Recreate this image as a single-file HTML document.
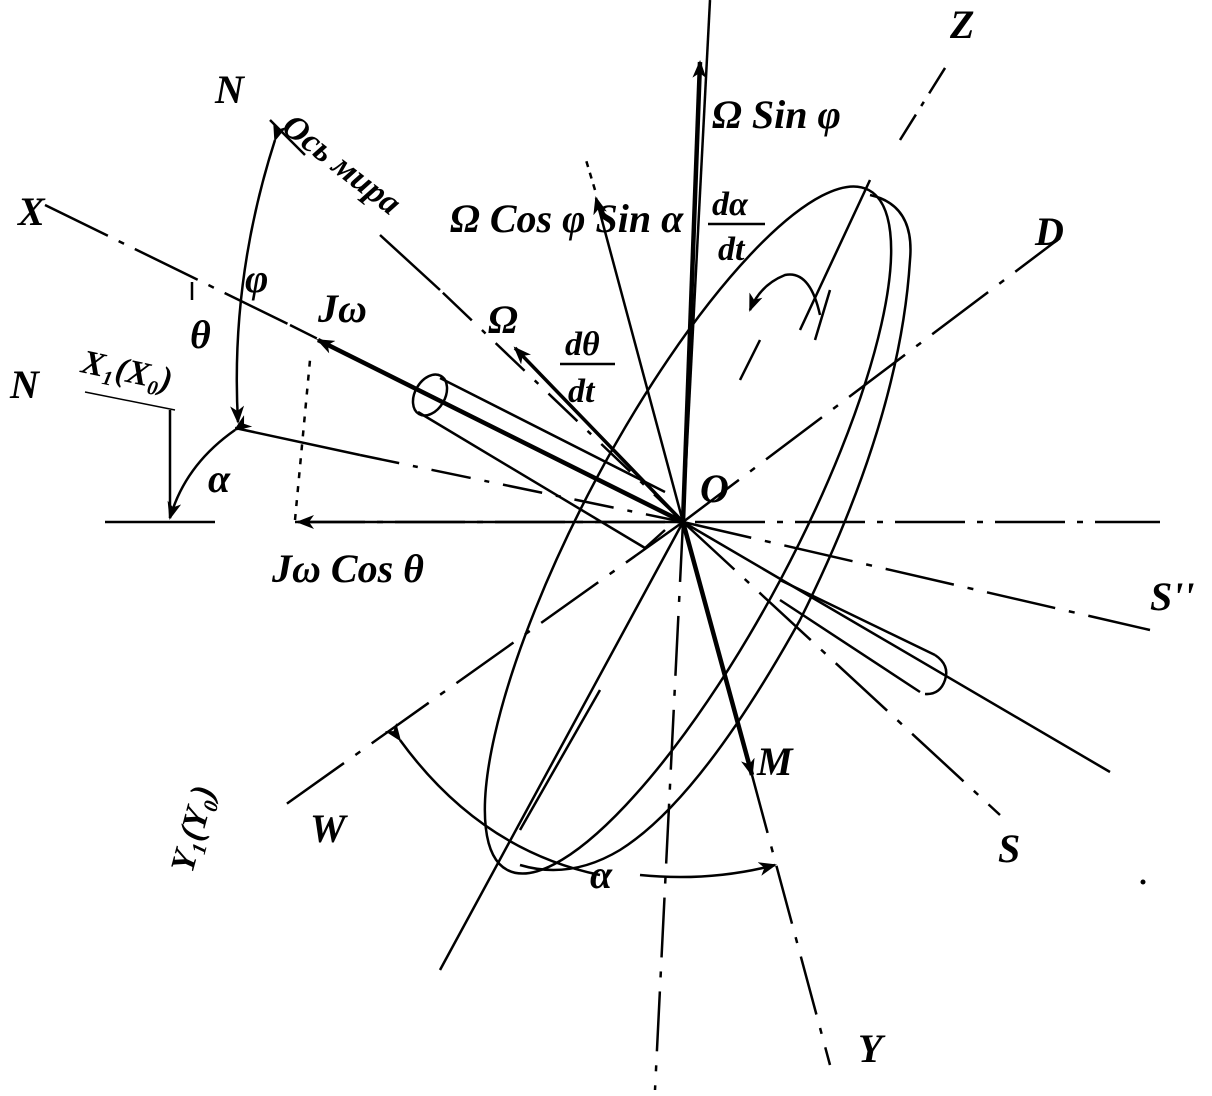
<!DOCTYPE html>
<html><head><meta charset="utf-8"><style>
html,body{margin:0;padding:0;background:#fff}
svg{display:block}
text{font-family:"Liberation Serif",serif;font-style:italic;font-weight:bold;fill:#000}
</style></head><body>
<svg width="1212" height="1096" viewBox="0 0 1212 1096" xmlns="http://www.w3.org/2000/svg">
<defs>
<marker id="ar" markerWidth="18" markerHeight="14" refX="16" refY="7" orient="auto" markerUnits="userSpaceOnUse"><path d="M0,0 L18,7 L0,14 L5,7 Z" fill="#000"/></marker>
</defs>
<g stroke="#000" fill="none" stroke-width="2.5">
<line x1="105" y1="522" x2="215" y2="522"/>
<line x1="295" y1="522" x2="1160" y2="522" stroke-dasharray="70,12,6,12"/>
<line x1="710" y1="0" x2="683" y2="522"/>
<line x1="683" y1="522" x2="700" y2="62" stroke-width="4.5" marker-end="url(#ar)"/>
<line x1="900" y1="140" x2="950" y2="60" stroke-dasharray="30,10,5,10"/>
<line x1="683" y1="522" x2="440" y2="290" stroke-dasharray="40,14,5,14"/>
<line x1="440" y1="290" x2="380" y2="235"/>
<line x1="305" y1="155" x2="270" y2="120"/>
<line x1="45" y1="205" x2="290" y2="325" stroke-dasharray="70,12,6,12"/>
<line x1="290" y1="325" x2="683" y2="522" stroke-dasharray="30,14,5,14"/>
<line x1="235" y1="428" x2="360" y2="455"/>
<line x1="360" y1="455" x2="683" y2="522" stroke-dasharray="40,14,5,14"/>
<line x1="85" y1="392" x2="175" y2="410" stroke-width="1.5"/>
<line x1="683" y1="522" x2="1060" y2="238" stroke-dasharray="70,14,6,14"/>
<line x1="683" y1="522" x2="1150" y2="630" stroke-dasharray="70,14,6,14"/>
<line x1="683" y1="522" x2="1000" y2="815" stroke-dasharray="70,14,6,14"/>
<line x1="683" y1="522" x2="1110" y2="772"/>
<line x1="683" y1="522" x2="285" y2="805" stroke-dasharray="70,14,6,14"/>
<line x1="683" y1="522" x2="440" y2="970"/>
<line x1="683" y1="522" x2="655" y2="1090" stroke-dasharray="60,14,6,14"/>
<line x1="683" y1="522" x2="752" y2="775" stroke-width="4.5" marker-end="url(#ar)"/>
<line x1="752" y1="775" x2="830" y2="1065" stroke-dasharray="60,14,6,14"/>
<line x1="683" y1="522" x2="318" y2="340" stroke-width="4.5" marker-end="url(#ar)"/>
<line x1="683" y1="522" x2="298" y2="522" marker-end="url(#ar)"/>
<line x1="295" y1="520" x2="310" y2="360" stroke-dasharray="6,8"/>
<line x1="683" y1="522" x2="515" y2="348" stroke-width="3.5" marker-end="url(#ar)"/>
<line x1="683" y1="522" x2="596" y2="198" marker-end="url(#ar)"/>
<line x1="595" y1="190" x2="586" y2="160" stroke-dasharray="6,6"/>
<ellipse cx="430" cy="395" rx="22" ry="15" transform="rotate(-60 430 395)"/>
<line x1="440" y1="378" x2="665" y2="492"/>
<line x1="418" y1="412" x2="645" y2="548"/>
<line x1="645" y1="548" x2="665" y2="530"/>
<line x1="780" y1="580" x2="935" y2="655"/>
<line x1="780" y1="600" x2="920" y2="692"/>
<path d="M935,655 Q950,665 945,680 Q940,695 925,694"/>
<ellipse cx="688" cy="530" rx="385" ry="105" transform="rotate(-62 688 530)"/>
<path d="M870,195 Q915,205 910,260 Q900,420 800,620 Q700,800 620,850 Q570,880 520,865" />
<path d="M820,315 Q810,270 785,275 Q760,285 750,310" marker-end="url(#ar)"/>
<line x1="760" y1="340" x2="740" y2="380"/>
<line x1="830" y1="290" x2="815" y2="340"/>
<line x1="870" y1="180" x2="800" y2="330"/>
<line x1="520" y1="830" x2="600" y2="690"/>
<path d="M400,740 Q480,850 600,875" marker-start="url(#ar)"/>
<path d="M640,875 Q710,882 775,865" marker-end="url(#ar)"/>
<path d="M275,140 Q230,280 238,422" marker-start="url(#ar)" marker-end="url(#ar)"/>
<path d="M235,430 Q185,465 170,518" marker-start="url(#ar)" marker-end="url(#ar)"/>
<line x1="170" y1="410" x2="170" y2="518"/>
<path d="M192,282 L192,300"/>
</g>
<g font-size="40">
<text x="950" y="38">Z</text>
<text x="712" y="128">Ω Sin φ</text>
<text x="450" y="232">Ω Cos φ Sin α</text>
<text x="488" y="333">Ω</text>
<text x="1035" y="245">D</text>
<text x="18" y="225">X</text>
<text x="215" y="103">N</text>
<text x="10" y="398">N</text>
<text x="245" y="292">φ</text>
<text x="190" y="348">θ</text>
<text x="318" y="322">Jω</text>
<text x="208" y="492">α</text>
<text x="272" y="582">Jω Cos θ</text>
<text x="700" y="502">O</text>
<text x="757" y="775">M</text>
<text x="1150" y="610">S''</text>
<text x="998" y="862">S</text>
<text x="310" y="842">W</text>
<text x="590" y="888">α</text>
<text x="858" y="1062">Y</text>
</g>
<text x="280" y="130" font-size="34" transform="rotate(38 280 130)">Ось мира</text>
<text x="80" y="372" font-size="34" transform="rotate(12 80 372)">X₁(X₀)</text>
<text x="170" y="845" font-size="34" transform="rotate(-75 200 845)">Y₁(Y₀)</text>
<g font-size="34">
<text x="712" y="215">dα</text><line x1="708" y1="224" x2="765" y2="224" stroke="#000" stroke-width="2.5"/><text x="718" y="260">dt</text>
<text x="565" y="355">dθ</text><line x1="560" y1="364" x2="615" y2="364" stroke="#000" stroke-width="2.5"/><text x="568" y="402">dt</text>
</g>
<circle cx="1143" cy="882" r="2.5" fill="#000"/>
</svg>
</body></html>
